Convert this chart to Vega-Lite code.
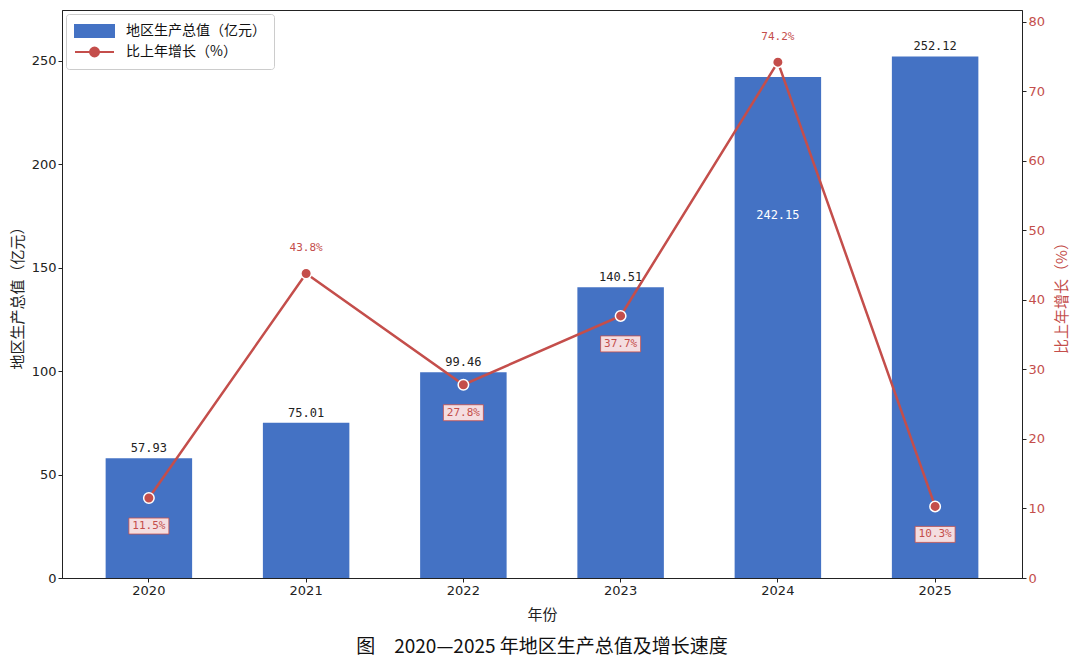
{
  "$schema": "https://vega.github.io/schema/vega-lite/v6.json",
  "width": 960,
  "height": 568,
  "autosize": {"type": "none"},
  "padding": {"left": 62, "top": 10, "right": 58, "bottom": 87},
  "background": "white",
  "config": {
    "view": {"stroke": "#222", "strokeWidth": 1},
    "font": "Noto Sans CJK SC",
    "axis": {
      "grid": false,
      "domainColor": "#222",
      "tickColor": "#222",
      "tickSize": 4,
      "labelFont": "DejaVu Sans",
      "labelFontSize": 13,
      "labelColor": "#222",
      "titleFont": "Noto Sans CJK SC",
      "titleFontSize": 15,
      "titleFontWeight": "normal",
      "titleColor": "#222"
    }
  },
  "title": {
    "text": "图　2020—2025 年地区生产总值及增长速度",
    "orient": "bottom",
    "anchor": "middle",
    "fontSize": 19,
    "fontWeight": "normal",
    "font": "Noto Sans CJK SC",
    "color": "#111",
    "offset": 16
  },
  "data": {
    "values": [
      {"year": "2020", "gdp": 57.93, "growth": 11.5},
      {"year": "2021", "gdp": 75.01, "growth": 43.8},
      {"year": "2022", "gdp": 99.46, "growth": 27.8},
      {"year": "2023", "gdp": 140.51, "growth": 37.7},
      {"year": "2024", "gdp": 242.15, "growth": 74.2},
      {"year": "2025", "gdp": 252.12, "growth": 10.3}
    ]
  },
  "encoding": {
    "x": {
      "field": "year",
      "type": "ordinal",
      "title": "年份",
      "scale": {"paddingInner": 0.45, "paddingOuter": 0.2775},
      "axis": {"labelAngle": 0, "titlePadding": 10}
    }
  },
  "layer": [
    {
      "encoding": {
        "y": {
          "field": "gdp",
          "type": "quantitative",
          "title": "地区生产总值（亿元）",
          "scale": {"domain": [0, 274.6], "nice": false},
          "axis": {"values": [0, 50, 100, 150, 200, 250], "titlePadding": 6}
        }
      },
      "layer": [
        {
          "mark": {"type": "bar", "color": "#4472C4"},
          "encoding": {
            "color": {
              "datum": "地区生产总值（亿元）",
              "type": "nominal",
              "scale": {
                "domain": ["地区生产总值（亿元）", "比上年增长（%）"],
                "range": ["#4472C4", "#C44E4B"]
              },
              "legend": {
                "title": null,
                "orient": "top-left",
                "offset": 4,
                "padding": 8,
                "strokeColor": "#cccccc",
                "fillColor": "white",
                "cornerRadius": 3,
                "symbolSize": 256,
                "labelOffset": 34,
                "rowPadding": 2,
                "labelFont": "Noto Sans CJK SC",
                "labelFontSize": 14,
                "labelColor": "#111",
                "encode": {
                  "symbols": {
                    "update": {
                      "shape": {"signal": "datum.value === '地区生产总值（亿元）' ? 'M-1,-0.75H3.875V0.75H-1Z' : 'M-1,0H3.875M2,0A0.56,0.56 0 1 1 0.88,0A0.56,0.56 0 1 1 2,0'"},
                      "fill": {"signal": "datum.value === '地区生产总值（亿元）' ? '#4472C4' : '#C44E4B'"},
                      "stroke": {"signal": "datum.value === '地区生产总值（亿元）' ? 'transparent' : '#C44E4B'"},
                      "strokeWidth": {"value": 2},
                      "opacity": {"value": 1}
                    }
                  }
                }
              }
            }
          }
        },
        {
          "transform": [{"filter": "datum.year != '2024'"}],
          "mark": {"type": "text", "baseline": "bottom", "dy": -3, "font": "DejaVu Sans Mono", "fontSize": 12, "color": "#222"},
          "encoding": {"text": {"field": "gdp", "type": "quantitative", "format": ".2f"}}
        },
        {
          "transform": [{"filter": "datum.year == '2024'"}],
          "mark": {"type": "text", "baseline": "middle", "dy": 138, "font": "DejaVu Sans Mono", "fontSize": 12, "color": "white"},
          "encoding": {"text": {"field": "gdp", "type": "quantitative", "format": ".2f"}}
        }
      ]
    },
    {
      "encoding": {
        "y": {
          "field": "growth",
          "type": "quantitative",
          "title": "比上年增长（%）",
          "scale": {"domain": [0, 81.7], "nice": false},
          "axis": {
            "orient": "right",
            "values": [0, 10, 20, 30, 40, 50, 60, 70, 80],
            "labelColor": "#C44E4B",
            "titleColor": "#C44E4B",
            "titleAngle": 270,
            "titleBaseline": "top",
            "titlePadding": 10
          }
        }
      },
      "layer": [
        {
          "mark": {"type": "line", "strokeWidth": 2.5},
          "encoding": {
            "color": {"datum": "比上年增长（%）", "type": "nominal"}
          }
        },
        {
          "mark": {"type": "point", "shape": "circle", "filled": true, "size": 110, "fill": "#C44E4B", "stroke": "white", "strokeWidth": 1.5, "opacity": 1}
        },
        {
          "transform": [{"filter": "datum.year != '2021' && datum.year != '2024'"}],
          "mark": {"type": "point", "shape": "M-2,-0.8H2V0.8H-2Z", "size": 400, "filled": true, "fill": "#F4DDE0", "stroke": "#C44E4B", "strokeWidth": 0.8, "opacity": 1, "yOffset": 28}
        },
        {
          "transform": [
            {"filter": "datum.year != '2021' && datum.year != '2024'"},
            {"calculate": "format(datum.growth, '.1f') + '%'", "as": "label"}
          ],
          "mark": {"type": "text", "baseline": "middle", "dy": 28, "font": "DejaVu Sans Mono", "fontSize": 11, "color": "#C44E4B"},
          "encoding": {"text": {"field": "label"}}
        },
        {
          "transform": [
            {"filter": "datum.year == '2021' || datum.year == '2024'"},
            {"calculate": "format(datum.growth, '.1f') + '%'", "as": "label"}
          ],
          "mark": {"type": "text", "baseline": "middle", "dy": -25, "font": "DejaVu Sans Mono", "fontSize": 11, "color": "#C44E4B"},
          "encoding": {"text": {"field": "label"}}
        }
      ]
    }
  ],
  "resolve": {"scale": {"y": "independent"}}
}
